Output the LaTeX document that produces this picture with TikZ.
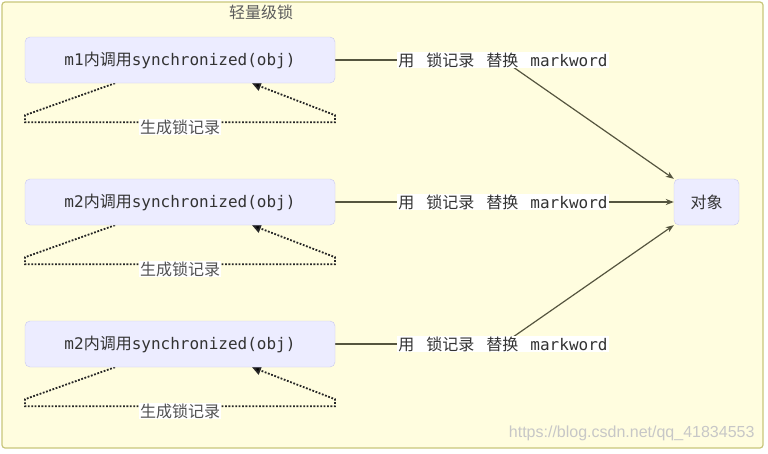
\documentclass[tikz,border=0pt]{standalone}
\usepackage{fontspec}
\setmonofont{DejaVu Sans Mono}
\newfontfamily\cjk{Noto Sans CJK SC}
\newfontfamily\wmfont{Liberation Sans}
\usetikzlibrary{arrows.meta}
\definecolor{clfill}{HTML}{FFFDDF}
\definecolor{clline}{HTML}{C8C67A}
\definecolor{boxfill}{HTML}{ECECFF}
\definecolor{boxline}{HTML}{C9C9EE}
\definecolor{txt}{HTML}{333333}
\definecolor{edgecol}{HTML}{55553F}
\pgfdeclarelayer{bg}
\pgfdeclarelayer{edges}
\pgfsetlayers{bg,edges,main}
\tikzset{
  cluster/.style={draw=clline,fill=clfill,line width=1.2pt,rounded corners=3pt},
  title/.style={text=txt!80,font=\fontsize{16}{18}\selectfont\cjk},
  box/.style={draw=boxline,fill=boxfill,rounded corners=5pt,minimum width=310pt,minimum height=46pt,inner sep=0pt,text=txt,font=\fontsize{16}{18}\selectfont},
  objbox/.style={draw=boxline,fill=boxfill,rounded corners=5pt,minimum width=65pt,minimum height=46pt,inner sep=0pt,text=txt,font=\fontsize{16}{18}\selectfont\cjk},
  elabel/.style={fill=white,inner sep=1pt,text=txt,font=\fontsize{16}{18}\selectfont},
  looplabel/.style={fill=white,inner sep=1pt,text=txt!85,font=\fontsize{16}{18}\selectfont\cjk},
  edge/.style={draw=edgecol,line width=1.2pt},
  arr/.style={-{Stealth[length=8pt,width=6pt]}},
  selfloop/.style={draw=black!85,line width=1.8pt,dash pattern=on 1.8pt off 1.6pt,-{Triangle[length=9pt,width=9pt,fill=black]}},
  wm/.style={text=black!22,font=\fontsize{16}{18}\selectfont\wmfont}
}
\newcommand{\boxtext}[1]{{\ttfamily #1}{\cjk 内调用}{\ttfamily synchronized(obj)}}
\newcommand{\reptext}{{\cjk 用\hspace{0.75em}锁记录\hspace{0.75em}替换}\hspace{0.75em}{\ttfamily markword}}
\begin{document}
\begin{tikzpicture}[x=1pt,y=-1pt]
\useasboundingbox (0,0) rectangle (768,453);
\begin{pgfonlayer}{bg}
\draw[cluster] (2,2) rectangle (763,448);
\end{pgfonlayer}
\node[title] (title) at (261,12) {轻量级锁};
\node[box] (m1) at (180,60) {\boxtext{m1}};
\node[box] (m2) at (180,202) {\boxtext{m2}};
\node[box] (m3) at (180,344) {\boxtext{m2}};
\node[objbox] (obj) at (706.5,202) {对象};
\node[elabel] (l1) at (503,60) {\reptext};
\node[elabel] (l2) at (503,202) {\reptext};
\node[elabel] (l3) at (503,344) {\reptext};
\node[looplabel] (g1) at (180,127) {生成锁记录};
\node[looplabel] (g2) at (180,269) {生成锁记录};
\node[looplabel] (g3) at (180,411) {生成锁记录};
\node[wm,anchor=east] (wmark) at (758,433) {https://blog.csdn.net/qq\_41834553};
\begin{pgfonlayer}{edges}
\draw[edge] (m1.east) -- (l1.center);
\draw[edge,arr] (l1.center) -- (obj.north west);
\draw[edge] (m2.east) -- (l2.center);
\draw[edge,arr] (l2.center) -- (obj.west);
\draw[edge] (m3.east) -- (l3.center);
\draw[edge,arr] (l3.center) -- (obj.south west);
\foreach \n in {m1,m2,m3}{
  \draw[selfloop] ([xshift=-65pt]\n.south) -- ++(-90,32) -- ++(0,7) -- ++(310,0) -- ++(0,-7) -- ([xshift=72pt]\n.south);
}
\end{pgfonlayer}
\end{tikzpicture}
\end{document}
